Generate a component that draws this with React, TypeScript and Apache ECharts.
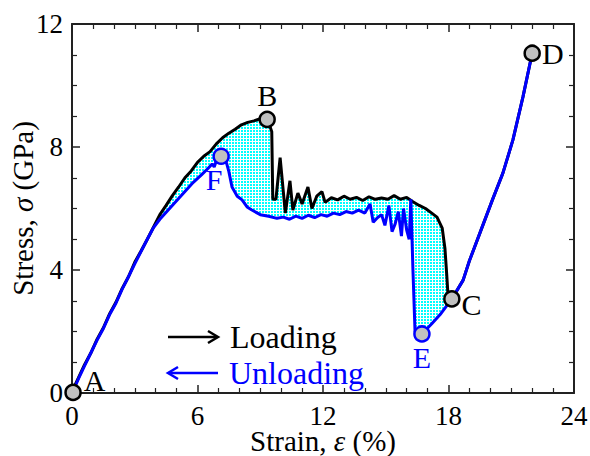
import React, { useEffect, useRef } from "react";
import * as echarts from "echarts";

const FONT = '"Liberation Serif", "Times New Roman", serif';

// Tick settings
const xTicks = { min: 0, max: 24, interval: 6 };
const yTicks = { min: 0, max: 12, interval: 4 };

// Loading curve (black): strain %, stress GPa
const loadingX = [0, 0.3, 0.6, 0.9, 1.2, 1.5, 1.8, 2.1, 2.4, 2.7, 3.0, 3.3, 3.6, 3.9, 4.2, 4.5, 4.8, 5.1, 5.4, 5.7, 6.0, 6.3, 6.6, 6.9, 7.2, 7.5, 7.8, 8.1, 8.4, 8.7, 9.0, 9.35, 9.55, 9.6, 9.75, 9.95, 10.2, 10.42, 10.56, 10.8, 11.0, 11.28, 11.47, 11.7, 11.95, 12.1, 12.4, 12.7, 13.0, 13.3, 13.6, 13.9, 14.2, 14.5, 14.8, 15.1, 15.4, 15.7, 16.0, 16.3, 16.6, 16.9, 17.2, 17.45, 17.7, 17.83, 17.92, 17.97, 18.16];
const loadingY = [0.05, 0.48, 0.92, 1.3, 1.75, 2.12, 2.58, 2.95, 3.4, 3.78, 4.25, 4.62, 5.0, 5.4, 5.8, 6.1, 6.42, 6.7, 7.0, 7.22, 7.5, 7.7, 7.85, 8.1, 8.3, 8.45, 8.58, 8.72, 8.8, 8.85, 8.92, 8.9, 8.5, 6.3, 6.3, 7.65, 5.85, 6.9, 5.95, 6.5, 6.15, 6.7, 6.0, 6.4, 6.55, 6.2, 6.35, 6.28, 6.4, 6.3, 6.36, 6.26, 6.38, 6.3, 6.34, 6.3, 6.42, 6.3, 6.36, 6.22, 6.1, 6.0, 5.85, 5.72, 5.36, 4.7, 3.8, 3.25, 3.06];

// Reloading / unloading curve (blue), from D back to A
const unloadingX = [22.0, 21.56, 21.08, 20.6, 20.1, 19.5, 19.0, 18.7, 18.16, 17.6, 17.2, 16.73, 16.4, 16.3, 16.2, 16.12, 16.0, 15.85, 15.75, 15.6, 15.45, 15.3, 15.15, 14.96, 14.8, 14.6, 14.4, 14.25, 14.0, 13.7, 13.4, 13.1, 12.8, 12.5, 12.2, 11.9, 11.6, 11.3, 11.0, 10.7, 10.4, 10.1, 9.8, 9.4, 9.0, 8.6, 8.37, 8.13, 7.9, 7.65, 7.5, 7.4, 7.3, 7.13, 6.9, 6.8, 6.7, 6.5, 6.2, 5.8, 5.4, 5.0, 4.6, 4.2, 3.9, 3.6, 3.3, 3.0, 2.7, 2.4, 2.1, 1.8, 1.5, 1.2, 0.9, 0.6, 0.3, 0.05];
const unloadingY = [11.05, 9.63, 8.23, 7.15, 6.28, 5.2, 4.3, 3.67, 3.06, 2.55, 2.25, 1.92, 2.0, 4.0, 6.3, 5.0, 5.3, 6.0, 5.1, 5.9, 5.5, 5.25, 6.1, 5.45, 5.8, 5.7, 5.55, 6.15, 5.85, 5.95, 5.85, 5.9, 5.8, 5.85, 5.75, 5.8, 5.7, 5.78, 5.68, 5.75, 5.65, 5.72, 5.68, 5.75, 5.8, 5.95, 6.05, 6.28, 6.4, 6.7, 7.2, 7.45, 7.6, 7.7, 7.55, 7.35, 7.45, 7.3, 7.1, 6.85, 6.55, 6.25, 5.95, 5.65, 5.38, 5.0, 4.6, 4.2, 3.78, 3.38, 2.92, 2.55, 2.1, 1.72, 1.3, 0.88, 0.45, 0.05];

// Reload C -> D (also traced by the loading path)
const reloadX = [18.16, 18.7, 19.0, 19.5, 20.1, 20.6, 21.08, 21.56, 22.0];
const reloadY = [3.06, 3.67, 4.3, 5.2, 6.28, 7.15, 8.23, 9.63, 11.05];

// Key points
const pointNames = ["A", "B", "C", "D", "E", "F"];
const pointX = [0.05, 9.33, 18.16, 22.0, 16.73, 7.13];
const pointY = [0.02, 8.9, 3.06, 11.05, 1.92, 7.7];

const legendLabels = ["Loading", "Unloading"];

function zip(xs: number[], ys: number[]) {
  return xs.map((x, i) => [x, ys[i]]);
}

function makePattern() {
  const c = document.createElement("canvas");
  c.width = 3;
  c.height = 3;
  const ctx = c.getContext("2d")!;
  ctx.fillStyle = "#00ffff";
  ctx.fillRect(0, 0, 3, 3);
  ctx.fillStyle = "#ffffff";
  ctx.fillRect(0, 0, 3, 1);
  ctx.fillRect(0, 0, 1, 3);
  return c;
}

export default function App() {
  const ref = useRef<HTMLDivElement>(null);
  useEffect(() => {
    if (!ref.current) return;
    const chart = echarts.init(ref.current, undefined, { renderer: "svg" });
    const loading = zip(loadingX, loadingY);
    const unloading = zip(unloadingX, unloadingY);
    const reload = zip(reloadX, reloadY);
    const cIdx = unloadingX.indexOf(18.16);
    const polygon = loading.concat(unloading.slice(cIdx));
    const pattern = makePattern();

    const axisCommon = {
      axisLine: { show: true, onZero: false, lineStyle: { color: "#222", width: 2 } },
      axisTick: { show: true, inside: true, length: 8, lineStyle: { color: "#222", width: 1.5 } },
      minorTick: { show: true, length: 5, lineStyle: { color: "#222", width: 1.2 } },
      splitLine: { show: false },
    };
    const labelStyle = { fontFamily: FONT, fontSize: 27, lineHeight: 22, color: "#000" };
    const nameStyle = {
      fontFamily: FONT,
      fontSize: 29,
      lineHeight: 24,
      color: "#000",
      rich: { i: { fontFamily: FONT, fontSize: 29, lineHeight: 24, fontStyle: "italic", color: "#000" } },
    };

    const pointLabelCfg: any[] = [
      { position: "right", distance: 2, offset: [0, -12], color: "#000" },
      { position: "top", distance: 0, color: "#000" },
      { position: "right", distance: 1, offset: [0, 6], color: "#000" },
      { position: "right", distance: 1, color: "#000" },
      { position: "bottom", distance: 0, color: "#0000ff" },
      { position: "bottom", distance: 0, offset: [-7, 0], color: "#0000ff" },
    ];
    const pointBorder = ["#000", "#000", "#000", "#000", "#0000ff", "#0000ff"];

    chart.setOption({
      animation: false,
      grid: { left: 72, right: 16, top: 24, bottom: 63, containLabel: false, outerBoundsMode: "none" },
      xAxis: [
        {
          type: "value",
          position: "bottom",
          ...xTicks,
          minorTick: { ...axisCommon.minorTick, splitNumber: 6 },
          axisLine: axisCommon.axisLine,
          axisTick: axisCommon.axisTick,
          splitLine: axisCommon.splitLine,
          axisLabel: { ...labelStyle, margin: 12 },
          name: "Strain, {i|ε} (%)",
          nameLocation: "middle",
          nameGap: 36,
          nameMoveOverlap: false,
          nameTextStyle: nameStyle,
        },
        {
          type: "value",
          position: "top",
          ...xTicks,
          minorTick: { ...axisCommon.minorTick, splitNumber: 6 },
          axisLine: axisCommon.axisLine,
          axisTick: axisCommon.axisTick,
          splitLine: axisCommon.splitLine,
          axisLabel: { show: false },
        },
      ],
      yAxis: [
        {
          type: "value",
          position: "left",
          ...yTicks,
          minorTick: { ...axisCommon.minorTick, splitNumber: 4 },
          axisLine: axisCommon.axisLine,
          axisTick: axisCommon.axisTick,
          splitLine: axisCommon.splitLine,
          axisLabel: { ...labelStyle, margin: 9 },
          name: "Stress, {i|σ} (GPa)",
          nameLocation: "middle",
          nameGap: 37,
          nameMoveOverlap: false,
          nameTextStyle: nameStyle,
        },
        {
          type: "value",
          position: "right",
          ...yTicks,
          minorTick: { ...axisCommon.minorTick, splitNumber: 4 },
          axisLine: axisCommon.axisLine,
          axisTick: axisCommon.axisTick,
          splitLine: axisCommon.splitLine,
          axisLabel: { show: false },
        },
      ],
      series: [
        {
          type: "custom",
          z: 1,
          silent: true,
          data: [[0, 0]],
          renderItem: (params: any, api: any) => {
            const pts = polygon.map((p) => api.coord(p));
            return {
              type: "polygon",
              shape: { points: pts },
              style: { fill: { image: pattern, repeat: "repeat" }, stroke: "none" },
            };
          },
        },
        {
          type: "line",
          z: 2,
          data: loading.concat(reload.slice(1)),
          showSymbol: false,
          symbol: "none",
          lineStyle: { color: "#000", width: 3 },
        },
        {
          type: "line",
          z: 3,
          data: unloading,
          showSymbol: false,
          symbol: "none",
          lineStyle: { color: "#0000ff", width: 3 },
        },
        {
          type: "scatter",
          z: 4,
          symbolSize: 15,
          data: pointNames.map((n, i) => ({
            value: [pointX[i], pointY[i]],
            name: n,
            itemStyle: { color: "#c0c0c0", opacity: 1, borderColor: pointBorder[i], borderWidth: 2.5 },
            label: {
              show: true,
              formatter: n,
              fontFamily: FONT,
              fontSize: 30,
              ...pointLabelCfg[i],
            },
          })),
        },
      ],
      graphic: [
        {
          type: "line",
          shape: { x1: 168, y1: 337, x2: 217, y2: 337 },
          style: { stroke: "#000", lineWidth: 2.5 },
        },
        {
          type: "polyline",
          shape: { points: [[208, 331], [218, 337], [208, 343]] },
          style: { stroke: "#000", lineWidth: 2.5, fill: "none" },
        },
        {
          type: "text",
          x: 230,
          y: 337,
          style: { text: legendLabels[0], fontFamily: FONT, fontSize: 32, fill: "#000", verticalAlign: "middle" },
        },
        {
          type: "line",
          shape: { x1: 169, y1: 373, x2: 218, y2: 373 },
          style: { stroke: "#0000ff", lineWidth: 2.5 },
        },
        {
          type: "polyline",
          shape: { points: [[178, 367], [168, 373], [178, 379]] },
          style: { stroke: "#0000ff", lineWidth: 2.5, fill: "none" },
        },
        {
          type: "text",
          x: 229,
          y: 373,
          style: { text: legendLabels[1], fontFamily: FONT, fontSize: 32, fill: "#0000ff", verticalAlign: "middle" },
        },
      ],
    });
    return () => chart.dispose();
  }, []);
  return <div ref={ref} style={{ width: 590, height: 456, position: "absolute", left: 0, top: 0 }} />;
}
